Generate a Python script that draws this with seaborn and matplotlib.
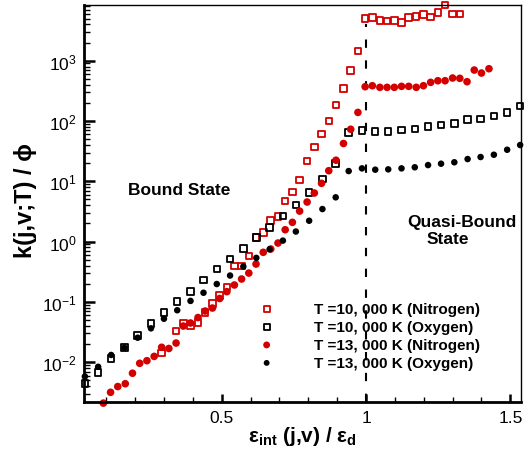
import numpy as np
import pandas as pd
import matplotlib
matplotlib.use("Agg")
import matplotlib.pyplot as plt
import seaborn as sns
from matplotlib.ticker import MultipleLocator, FixedLocator, LogLocator, NullFormatter

# ---------------- data ----------------
n_x = [0.090, 0.115, 0.140, 0.166, 0.191, 0.216, 0.241, 0.266, 0.292, 0.317,
       0.342, 0.367, 0.392, 0.418, 0.443, 0.468, 0.493, 0.518, 0.544, 0.569,
       0.594, 0.619, 0.644, 0.670, 0.695, 0.720, 0.745, 0.770, 0.796, 0.821,
       0.846, 0.871, 0.896, 0.922, 0.947, 0.972, 0.997, 1.022, 1.048, 1.073,
       1.098, 1.123, 1.148, 1.174, 1.199, 1.224, 1.249, 1.274, 1.300, 1.325,
       1.350, 1.375, 1.400, 1.426]
n13_y = [0.0021, 0.00317, 0.00395, 0.0044, 0.00657, 0.0096, 0.0106, 0.0125, 0.0177, 0.0169,
         0.0208, 0.0398, 0.0447, 0.0551, 0.0706, 0.0792, 0.114, 0.148, 0.191, 0.240,
         0.301, 0.425, 0.665, 0.754, 0.948, 1.575, 2.09, 3.21, 4.54, 6.40,
         9.27, 15.0, 22.4, 42.4, 73.1, 139, 371, 385, 362, 362,
         362, 376, 376, 362, 385, 438, 466, 466, 517, 511,
         449, 701, 625, 737]

n10_x = [0.292, 0.342, 0.367, 0.392, 0.418, 0.443, 0.468, 0.493, 0.518, 0.544,
         0.569, 0.594, 0.619, 0.644, 0.670, 0.695, 0.720, 0.745, 0.770, 0.796,
         0.821, 0.846, 0.871, 0.896, 0.922, 0.947, 0.972, 0.997, 1.022, 1.048,
         1.073, 1.098, 1.123, 1.148, 1.174, 1.199, 1.224, 1.249, 1.274, 1.300,
         1.325]
n10_y = [0.0142, 0.0327, 0.0447, 0.0402, 0.0459, 0.0662, 0.0948, 0.129, 0.177, 0.394,
         0.394, 0.583, 1.18, 1.41, 2.22, 2.63, 4.71, 6.65, 10.6, 21.7,
         37.1, 60.8, 99.3, 184, 348, 693, 1449, 5050, 5250, 4680,
         4550, 4680, 4340, 5250, 5450, 5790, 5310, 6350, 8390, 5940,
         6010]

o_x = [0.026, 0.072, 0.117, 0.163, 0.209, 0.255, 0.300, 0.346, 0.392, 0.437,
       0.483, 0.529, 0.575, 0.620, 0.666, 0.712, 0.757, 0.803, 0.849, 0.895,
       0.940, 0.986, 1.032, 1.077, 1.123, 1.169, 1.215, 1.260, 1.306, 1.352,
       1.397, 1.443, 1.489, 1.534]
o10_y = [0.0044, 0.0067, 0.0116, 0.0177, 0.0277, 0.0438, 0.0667, 0.102, 0.150, 0.231,
         0.352, 0.514, 0.769, 1.18, 1.73, 2.66, 4.07, 6.57, 11.0, 19.9,
         64.0, 69.0, 67.5, 67.5, 71.0, 73.7, 81.7, 85.9, 91.6, 105,
         108, 122, 139, 179]
o13_y = [0.0058, 0.0084, 0.0132, 0.0174, 0.0255, 0.0365, 0.0526, 0.0728, 0.104, 0.142,
         0.198, 0.274, 0.386, 0.538, 0.745, 1.04, 1.47, 2.22, 3.47, 5.43,
         14.8, 16.4, 15.6, 15.8, 16.4, 17.1, 18.6, 19.6, 20.7, 23.4,
         25.3, 27.6, 33.4, 40.0]

series_labels = ["T =10, 000 K (Nitrogen)", "T =10, 000 K (Oxygen)",
                 "T =13, 000 K (Nitrogen)", "T =13, 000 K (Oxygen)"]
dissociation_x = 1.0
dashed_top = 4000
x_limits = (0.023, 1.537)
y_limits = (0.00219, 8400)
x_ticks = [0.5, 1.0, 1.5]
x_ticklabels = ["0.5", "1", "1.5"]
y_ticks = [1e-2, 1e-1, 1e0, 1e1, 1e2, 1e3]

# ---------------- style ----------------
sns.set_style("ticks")
plt.rcParams["font.family"] = ["Liberation Sans", "DejaVu Sans"]
plt.rcParams["mathtext.fontset"] = "custom"
plt.rcParams["mathtext.rm"] = "Liberation Sans"
plt.rcParams["mathtext.it"] = "Liberation Sans:italic"
plt.rcParams["mathtext.bf"] = "Liberation Sans:bold"
for key in ["text.color", "axes.labelcolor", "xtick.color", "ytick.color", "axes.edgecolor"]:
    plt.rcParams[key] = "black"

RED = "#d40000"
BLACK = "#000000"

frames = []
for lab, xs, ys in zip(series_labels, [n10_x, o_x, n_x, o_x], [n10_y, o10_y, n13_y, o13_y]):
    frames.append(pd.DataFrame({"x": xs, "y": ys, "series": lab}))
df = pd.concat(frames, ignore_index=True)

fig = plt.figure(figsize=(5.31, 4.56), dpi=100)
ax = fig.add_axes([84 / 531, 1 - 403 / 456, 437 / 531, 397 / 456])

styles = {
    series_labels[0]: dict(marker="s", facecolor="none", edgecolor=RED, s=22, linewidth=1.3),
    series_labels[1]: dict(marker="s", facecolor="none", edgecolor=BLACK, s=22, linewidth=1.3),
    series_labels[2]: dict(marker="o", color=RED, edgecolor="none", s=30, linewidth=0),
    series_labels[3]: dict(marker="o", color=BLACK, edgecolor="none", s=22, linewidth=0),
}
for lab in series_labels:
    sub = df[df["series"] == lab]
    sns.scatterplot(data=sub, x="x", y="y", ax=ax, label=lab, clip_on=False,
                    zorder=3, **styles[lab])

ax.set_yscale("log")
ax.set_xlim(*x_limits)
ax.set_ylim(*y_limits)

ax.vlines(dissociation_x, y_limits[0], dashed_top, colors="black",
          linestyles=(0, (4, 6)), linewidth=1.5, zorder=2)

# ticks
ax.xaxis.set_major_locator(FixedLocator(x_ticks))
ax.set_xticklabels(x_ticklabels)
ax.xaxis.set_minor_locator(MultipleLocator(0.1))
ax.yaxis.set_major_locator(FixedLocator(y_ticks))
ax.yaxis.set_minor_locator(LogLocator(base=10, subs=np.arange(2, 10), numticks=20))
ax.yaxis.set_minor_formatter(NullFormatter())
ax.tick_params(axis="both", which="both", direction="in", top=False, right=False,
               labelsize=12.5, colors="black")
ax.tick_params(axis="y", which="major", length=8, width=1.8, pad=5)
ax.tick_params(axis="y", which="minor", length=4.5, width=1.0)
ax.tick_params(axis="x", which="major", length=5.5, width=1.8, pad=6)
ax.tick_params(axis="x", which="minor", length=3.5, width=1.0)

for side in ["left", "bottom"]:
    ax.spines[side].set_linewidth(2.0)
for side in ["top", "right"]:
    ax.spines[side].set_linewidth(1.0)
    ax.spines[side].set_visible(True)
for sp in ax.spines.values():
    sp.set_color("black")
    sp.set_zorder(4)

ax.set_xlabel("ε$_{\\mathbf{int}}$ (j,v) / ε$_{\\mathbf{d}}$", fontsize=15, fontweight="bold")
ax.set_ylabel("k(j,v;T) / ϕ", fontsize=17, fontweight="bold")
ax.xaxis.set_label_coords(0.5, -0.055)
ax.yaxis.set_label_coords(-0.108, 0.51)

ax.text(0.1007, 0.5365, "Bound State", transform=ax.transAxes, ha="left", va="center",
        fontsize=12.5, fontweight="bold")
ax.text(0.8645, 0.454, "Quasi-Bound", transform=ax.transAxes, ha="center", va="center",
        fontsize=12.5, fontweight="bold")
ax.text(0.8325, 0.4106, "State", transform=ax.transAxes, ha="center", va="center",
        fontsize=12.5, fontweight="bold")

leg = ax.legend(loc="upper left", bbox_to_anchor=(259 / 531, 1 - 303 / 456),
                bbox_transform=fig.transFigure, frameon=False, borderpad=0,
                borderaxespad=0, handlelength=1.0, handletextpad=2.6,
                labelspacing=0.26, prop={"weight": "bold", "size": 11},
                scatterpoints=1, markerscale=0.9)

fig.savefig("out.png", dpi=100)
